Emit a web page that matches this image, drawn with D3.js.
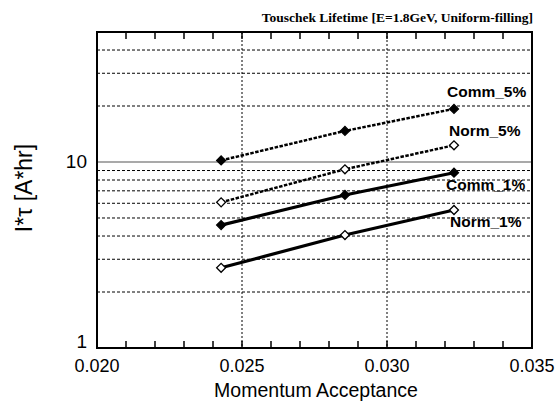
<!DOCTYPE html>
<html><head><meta charset="utf-8">
<script src="https://cdn.jsdelivr.net/npm/d3@7"></script>
<style>body{margin:0;background:#fff}</style></head>
<body><svg id="c" width="556" height="403"></svg>
<script>
const xVals = [0.02428, 0.02855, 0.03231];
const comm5 = [10.2, 14.7, 19.3];
const norm5 = [6.07, 9.14, 12.3];
const comm1 = [4.58, 6.65, 8.76];
const norm1 = [2.70, 4.05, 5.52];
const seriesNames = ["Comm_5%", "Norm_5%", "Comm_1%", "Norm_1%"];
const xTickLabels = ["0.020", "0.025", "0.030", "0.035"];
const yGridVals = [2,3,4,5,6,7,8,9,20,30,40];
const yTickLabels = ["1", "10"];

const svg = d3.select("#c");
const L=97, R=532, T=32, B=348;
const x = d3.scaleLinear().domain([0.020,0.035]).range([L,R]);
const y = d3.scaleLog().domain([1,50]).range([B,T]);
const sans = "Liberation Sans, Arial, sans-serif";

// grid
svg.append("g").selectAll("line").data(yGridVals).join("line")
  .attr("x1",L).attr("x2",R).attr("y1",d=>y(d)).attr("y2",d=>y(d))
  .attr("stroke","#000").attr("stroke-width",1).attr("stroke-dasharray","3,2");
svg.append("line").attr("x1",L).attr("x2",R).attr("y1",y(10)).attr("y2",y(10))
  .attr("stroke","#555").attr("stroke-width",1.2);
svg.append("g").selectAll("line").data([0.025,0.030]).join("line")
  .attr("x1",d=>x(d)).attr("x2",d=>x(d)).attr("y1",T).attr("y2",B)
  .attr("stroke","#000").attr("stroke-width",1).attr("stroke-dasharray","2,2");

// minor ticks top & bottom
const minor = d3.range(21,35).map(v=>v/1000);
svg.append("g").selectAll("line").data(minor).join("line")
  .attr("x1",d=>x(d)).attr("x2",d=>x(d)).attr("y1",B).attr("y2",B-7)
  .attr("stroke","#000").attr("stroke-width",1.5);
svg.append("g").selectAll("line").data(minor).join("line")
  .attr("x1",d=>x(d)).attr("x2",d=>x(d)).attr("y1",T).attr("y2",T+7)
  .attr("stroke","#000").attr("stroke-width",1.5);

// frame
svg.append("rect").attr("x",L).attr("y",T).attr("width",R-L).attr("height",B-T)
  .attr("fill","none").attr("stroke","#000").attr("stroke-width",2);

// tick labels
svg.append("g").selectAll("text").data(xTickLabels).join("text")
  .attr("x",d=>x(+d)).attr("y",B+24).attr("text-anchor","middle")
  .attr("font-family",sans).attr("font-size",18).text(d=>d);
svg.append("text").attr("x",L-10).attr("y",y(1)).attr("text-anchor","end")
  .attr("font-family",sans).attr("font-size",19).text(yTickLabels[0]);
svg.append("text").attr("x",L-10).attr("y",y(10)+6).attr("text-anchor","end")
  .attr("font-family",sans).attr("font-size",19).text(yTickLabels[1]);

// axis titles
svg.append("text").attr("x",316).attr("y",397).attr("text-anchor","middle")
  .attr("font-family",sans).attr("font-size",19.5).text("Momentum  Acceptance");
svg.append("text").attr("transform","translate(32,188) rotate(-90)").attr("text-anchor","middle")
  .attr("font-family",sans).attr("font-size",23).text("I*τ [A*hr]");

// title
svg.append("text").attr("x",533).attr("y",22).attr("text-anchor","end")
  .attr("font-family","Liberation Serif, Times New Roman, serif").attr("font-weight","bold")
  .attr("font-size",13.5).text("Touschek Lifetime [E=1.8GeV, Uniform-filling]");

const series = [
  {name:seriesNames[0], vals:comm5, dash:"3.5,1.5", filled:true, w:2.5, lx:447, ly:97},
  {name:seriesNames[1], vals:norm5, dash:"3.5,1.5", filled:false, w:2.5, lx:449, ly:136},
  {name:seriesNames[2], vals:comm1, dash:null, filled:true, w:3.2, lx:446, ly:190},
  {name:seriesNames[3], vals:norm1, dash:null, filled:false, w:3.2, lx:450, ly:227},
];
const line = d3.line().x(d=>x(d[0])).y(d=>y(d[1]));
const sq = d3.symbol().type(d3.symbolSquare).size(40);
series.forEach(s=>{
  const pts = xVals.map((xv,i)=>[xv,s.vals[i]]);
  svg.append("path").attr("d",line(pts)).attr("fill","none").attr("stroke","#000")
    .attr("stroke-width",s.w).attr("stroke-dasharray",s.dash);
  svg.append("g").selectAll("path").data(pts).join("path")
    .attr("transform",d=>`translate(${x(d[0])},${y(d[1])}) rotate(45)`)
    .attr("d",sq)
    .attr("fill",s.filled?"#000":"#fff").attr("stroke","#000").attr("stroke-width",1.3);
  svg.append("text").attr("x",s.lx).attr("y",s.ly)
    .attr("font-family",sans).attr("font-weight","bold")
    .attr("font-size",15.5).text(s.name);
});
</script></body></html>
